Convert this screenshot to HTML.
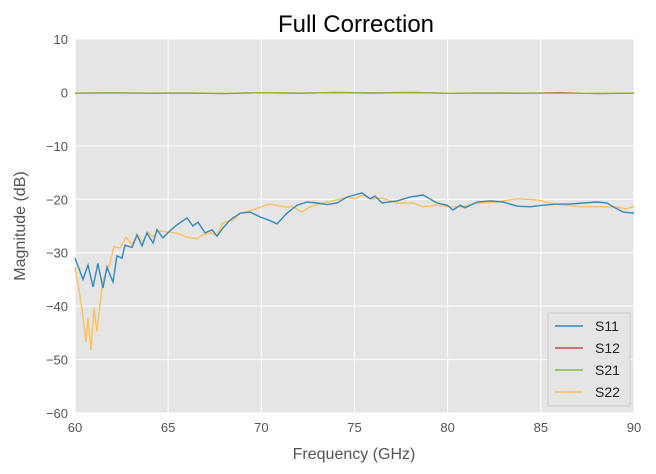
<!DOCTYPE html>
<html><head><meta charset="utf-8"><style>
body{margin:0;background:#fff;}
svg{display:block;font-family:"Liberation Sans",sans-serif;}
</style></head><body>
<svg id="chart" width="656" height="474"></svg>
<script>
const s11F=[60,60.43,60.7,60.97,61.23,61.5,61.72,62.04,62.25,62.52,62.68,63.06,63.33,63.6,63.86,64.19,64.4,64.72,65.1,65.47,66.01,66.33,66.6,66.98,67.35,67.62,67.94,68.32,68.86,69.4,69.93,70.47,70.84,71.38,71.92,72.45,72.99,73.53,74.06,74.6,75.0,75.4,75.83,76.1,76.48,77.28,77.98,78.68,79.43,79.97,80.29,80.67,80.93,81.58,82.28,82.97,83.73,84.42,85.12,85.87,86.57,87.27,88.02,88.56,88.88,89.42,90];
const s11V=[-31,-35,-32.3,-36.4,-32,-36.6,-32.7,-35.5,-30.6,-31,-28.6,-29,-26.7,-28.7,-26.3,-28.2,-25.7,-27.2,-25.9,-24.8,-23.5,-25,-24.3,-26.3,-25.7,-26.9,-25.4,-23.9,-22.6,-22.4,-23.3,-24,-24.6,-22.6,-21.1,-20.5,-20.7,-21,-20.7,-19.6,-19.2,-18.8,-19.9,-19.4,-20.7,-20.3,-19.6,-19.2,-20.7,-21.1,-22,-21.1,-21.6,-20.5,-20.3,-20.5,-21.3,-21.4,-21.1,-20.9,-20.9,-20.7,-20.5,-20.7,-21.4,-22.4,-22.6];
const s22F=[60,60.11,60.38,60.59,60.7,60.86,61.02,61.18,61.29,61.5,61.72,61.88,62.09,62.42,62.74,63.06,63.33,63.65,63.92,64.19,64.46,64.94,65.47,66.01,66.55,66.82,67.25,67.62,67.94,68.48,68.86,69.55,70.09,70.47,71.16,71.7,72.18,72.61,73.31,74.06,74.6,75.03,75.4,75.83,76.53,77.28,78.14,78.68,79.43,80.13,80.8,81.58,82.65,83.73,84.8,85.5,86.2,87.27,88.34,89.0,89.6,90];
const s22V=[-32.7,-34.7,-40.7,-46.7,-42.2,-48.2,-40.3,-44.8,-41.3,-35.1,-33.2,-31.9,-28.9,-29.1,-27.1,-28.6,-26.5,-28,-26.1,-27.1,-25.9,-26.1,-26.3,-27.1,-27.4,-26.7,-26.3,-26.7,-24.4,-23.9,-22.6,-22,-21.3,-20.9,-21.4,-21.4,-22.4,-21.4,-20.7,-20.1,-19.6,-19.9,-19.2,-19.9,-19.8,-20.7,-20.7,-21.4,-21.1,-21.4,-21.4,-20.7,-20.5,-19.9,-20.1,-20.7,-21.1,-21.4,-21.4,-21.4,-21.8,-21.3];
const flatF=[60,62,64,66,68,70,72,74,76,78,80,82,84,86,88,90];
const s12V=[-0.15,-0.05,-0.15,-0.1,-0.2,-0.05,-0.15,0.0,-0.1,0.0,-0.15,-0.1,-0.15,-0.05,-0.2,-0.15];
const s21V=[-0.1,-0.1,-0.1,-0.1,-0.15,-0.05,-0.1,-0.05,-0.1,-0.05,-0.15,-0.1,-0.1,-0.15,-0.15,-0.1];
const xTicks=[60,65,70,75,80,85,90];
const yTicks=[10,0,-10,-20,-30,-40,-50,-60];
const yTickLabels=["10","0","\u221210","\u221220","\u221230","\u221240","\u221250","\u221260"];

const L=75,R=634,T=39,B=413;
const xS=f=>L+(f-60)/30*(R-L);
const yS=v=>T+(10-v)/70*(B-T);
const NS="http://www.w3.org/2000/svg";
const svg=document.getElementById('chart');
function mk(tag,attrs,parent){const e=document.createElementNS(NS,tag);for(const k in attrs)e.setAttribute(k,attrs[k]);(parent||svg).appendChild(e);return e;}

const bg=mk('rect',{x:L,y:T,width:R-L,height:B-T,fill:'#e5e5e5'});


xTicks.forEach(t=>{
  const g=mk('line',{x1:xS(t),x2:xS(t),y1:T,y2:B,stroke:'#fff','stroke-width':1});
  
  
  const tx=mk('text',{x:xS(t),y:B+19,'text-anchor':'middle','font-size':13,fill:'#555'});
  tx.textContent=t;
  
  
});
yTicks.forEach((t,i)=>{
  const g=mk('line',{x1:L,x2:R,y1:yS(t),y2:yS(t),stroke:'#fff','stroke-width':1});
  
  
  const tx=mk('text',{x:L-7,y:yS(t)+5,'text-anchor':'end','font-size':13,fill:'#555'});
  tx.textContent=yTickLabels[i];
  
  
});
function series(F,V,color,name){
  const d=F.map((f,i)=>(i?'L':'M')+xS(f).toFixed(1)+','+yS(V[i]).toFixed(1)).join('');
  const p=mk('path',{d:d,fill:'none',stroke:color,'stroke-width':1.4});
  
  
}
series(s22F,s22V,'#fbc15e','series-s22');
series(s11F,s11V,'#348abd','series-s11');
series(flatF,s12V,'#c0504d','series-s12');
series(flatF,s21V,'#8eba42','series-s21');

const title=mk('text',{x:356,y:32,'text-anchor':'middle','font-size':24,fill:'#000'});
title.textContent='Full Correction';


const xl=mk('text',{x:354,y:459,'text-anchor':'middle','font-size':16,fill:'#555'});
xl.textContent='Frequency (GHz)';


const yl=mk('text',{x:25,y:226,'text-anchor':'middle','font-size':16,fill:'#555',transform:'rotate(-90 25 226)'});
yl.textContent='Magnitude (dB)';



const lg=mk('rect',{x:548,y:313,width:82,height:93,fill:'#e5e5e5',stroke:'#ccc'});


const names=['S11','S12','S21','S22'],cols=['#348abd','#c0504d','#8eba42','#fbc15e'];
names.forEach((n,i)=>{
  const y=326+i*22;
  const ln=mk('line',{x1:555,x2:583,y1:y,y2:y,stroke:cols[i],'stroke-width':1.4});
  
  
  const t=mk('text',{x:595,y:y+5,'font-size':14,fill:'#222'});
  t.textContent=n;
  
  
});
</script>
</body></html>
